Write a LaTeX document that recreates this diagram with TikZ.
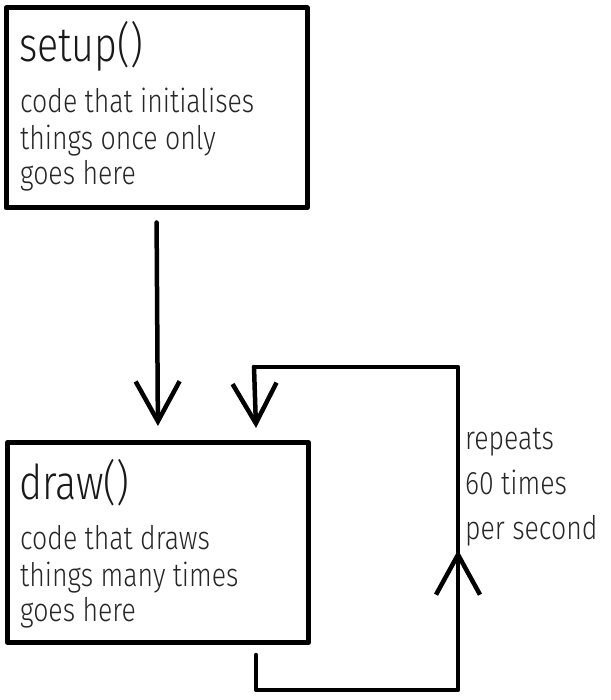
\documentclass[tikz,border=0pt]{standalone}
\usepackage{fontspec}
\setmainfont{Fira Sans Light}[FakeStretch=0.82]
\usetikzlibrary{arrows.meta}
\begin{document}
\begin{tikzpicture}[x=1pt,y=1pt,
  box/.style={draw, line width=5pt, line join=round, minimum width=301pt, minimum height=200pt, inner sep=0pt},
  title/.style={anchor=base west, inner sep=0pt, font=\fontsize{48}{48}\selectfont, text=black!90},
  body/.style={anchor=base west, inner sep=0pt, font=\fontsize{32.5}{32.5}\selectfont, text=black!85},
  link/.style={line width=4.5pt, line cap=round, line join=round},
  arr/.style={link, -{Straight Barb[length=40pt,width=44pt,line width=4.5pt]}}]
\useasboundingbox (0,0) rectangle (610,700);
\node[box] (setup) at (156.5,592) {};
\node[box] (draw) at (158,157.5) {};
\node[title] (t1) at (19,638) {setup()};
\node[body] (s1) at (20,587) {code that initialises};
\node[body] (s2) at (20,550) {things once only};
\node[body] (s3) at (20,515) {goes here};
\node[title] (t2) at (19,200) {draw()};
\node[body] (d1) at (20,150) {code that draws};
\node[body] (d2) at (20,113) {things many times};
\node[body] (d3) at (20,78) {goes here};
\node[body] (r1) at (465,250) {repeats};
\node[body] (r2) at (465,205) {60 times};
\node[body] (r3) at (465,160) {per second};
\draw[arr, shorten <=12pt, shorten >=14pt] (setup.south) -- (draw.north);
\coordinate (l0) at (256,45);
\coordinate (l1) at (458,10);
\coordinate (l2) at (254,333);
\coordinate (l3) at (256,272);
\draw[link] (l0) |- (l1) |- (l2);
\draw[arr] (l2) -- (l3);
\coordinate (u0) at (458,110);
\coordinate (u1) at (458,150);
\draw[arr] (u0) -- (u1);
\end{tikzpicture}
\end{document}
